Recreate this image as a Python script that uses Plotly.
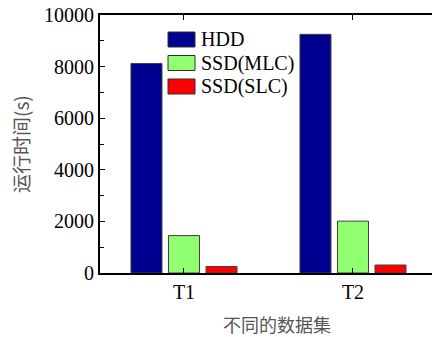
import plotly.graph_objects as go

# Data
datasets = ["T1", "T2"]
series_names = ["HDD", "SSD(MLC)", "SSD(SLC)"]
hdd = [8120, 9250]
ssd_mlc = [1450, 2010]
ssd_slc = [250, 310]
series_values = [hdd, ssd_mlc, ssd_slc]
series_colors = ["#000090", "#90FF70", "#FF0000"]
y_ticks = [0, 2000, 4000, 6000, 8000, 10000]
y_ticklabels = ["0", "2000", "4000", "6000", "8000", "10000"]

y_title = "运行时间(s)"
x_title = "不同的数据集"

W, H = 432, 337
L, T, B = 100, 15, 64
plot_w = W - L
plot_h = H - T - B

FONT = "Liberation Serif"
CJK = "Noto Sans CJK SC"

fig = go.Figure()
for name, vals, col in zip(series_names, series_values, series_colors):
    fig.add_trace(go.Bar(
        x=datasets, y=vals, name=name,
        marker=dict(color=col, line=dict(color="#404040", width=1)),
        showlegend=False,
    ))


def px_x(p):
    return (p - L) / plot_w


def px_y(p):
    return (T + plot_h - p) / plot_h


# Legend drawn as boxes + labels
leg_left, leg_box_w, leg_box_h = 168, 27, 15
leg_top0, leg_step = 32, 23.5
for i, (name, col) in enumerate(zip(series_names, series_colors)):
    top = leg_top0 + i * leg_step
    fig.add_shape(type="rect", xref="paper", yref="paper",
                  x0=px_x(leg_left), x1=px_x(leg_left + leg_box_w),
                  y0=px_y(top + leg_box_h), y1=px_y(top),
                  fillcolor=col, line=dict(color="#303030", width=1))
    fig.add_annotation(xref="paper", yref="paper",
                       x=px_x(leg_left + leg_box_w + 4), y=px_y(top + leg_box_h / 2),
                       text=name, showarrow=False, xanchor="left", yanchor="middle",
                       font=dict(family=FONT, size=20, color="black"))

fig.add_annotation(xref="paper", yref="paper", x=px_x(20), y=0.5,
                   text=y_title, textangle=-90, showarrow=False,
                   xanchor="center", yanchor="middle",
                   font=dict(family=CJK, size=19, color="#555"))
fig.add_annotation(xref="paper", yref="paper", x=px_x(277), y=px_y(324),
                   text=x_title, showarrow=False,
                   xanchor="center", yanchor="middle",
                   font=dict(family=CJK, size=18, color="#555"))

fig.update_layout(
    width=W, height=H,
    margin=dict(l=L, r=0, t=T, b=B),
    paper_bgcolor="white", plot_bgcolor="white",
    barmode="group", bargap=0.334, bargroupgap=0.173,
    font=dict(family=FONT, size=20, color="black"),
)
fig.update_xaxes(
    type="category", range=[-0.497, -0.497 + plot_w / 169],
    showline=True, linecolor="black", linewidth=2,
    mirror="allticks", ticks="inside", ticklen=5, tickcolor="black",
    showgrid=False, zeroline=False,
    tickfont=dict(family=FONT, size=20, color="black"),
)
fig.update_yaxes(
    range=[0, 10000], tickvals=y_ticks, ticktext=y_ticklabels,
    showline=True, linecolor="black", linewidth=2, mirror=False,
    ticks="inside", ticklen=5, tickcolor="black",
    minor=dict(dtick=1000, ticks="inside", ticklen=4, tickcolor="black"),
    showgrid=False, zeroline=False,
    tickfont=dict(family=FONT, size=20, color="black"),
)

fig.write_html("out.html")
